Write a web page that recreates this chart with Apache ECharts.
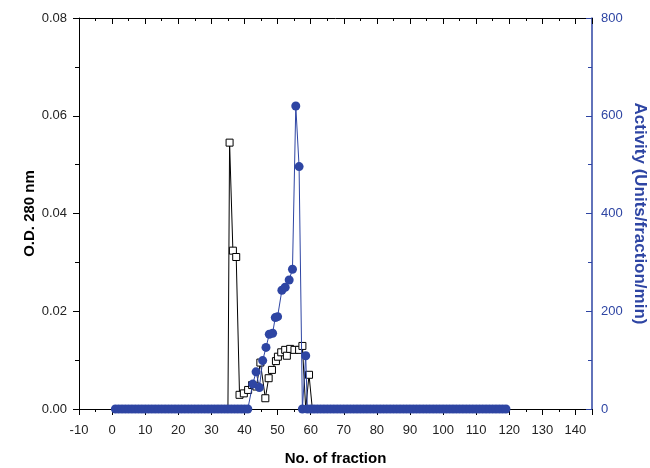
<!DOCTYPE html>
<html><head><meta charset="utf-8">
<script src="https://cdn.jsdelivr.net/npm/echarts/dist/echarts.min.js"></script>
<style>html,body{margin:0;padding:0;background:#fff}#c{width:650px;height:468px}</style>
</head><body><div id="c"></div>
<script>
// ---- Data ----
const xTickLabels = [-10,0,10,20,30,40,50,60,70,80,90,100,110,120,130,140];
const odTickLabels = ['0.00','0.02','0.04','0.06','0.08'];
const actTickLabels = [0,200,400,600,800];

// O.D. 280 nm (hollow squares); endpoints at 0 have no marker
const odFraction = [35, 35.5, 36.5, 37.5, 38.5, 39.8, 41.1, 42.3, 43.6, 44.8, 46.3, 47.3, 48.3, 49.5, 50.1, 51.1, 52.3, 52.8, 53.8, 55.1, 56.5, 57.5, 58.5, 59.5, 60.5];
const odValue    = [0, 0.0545, 0.0324, 0.0311, 0.0029, 0.0032, 0.0039, 0.0049, 0.0046, 0.0095, 0.0022, 0.0063, 0.0080, 0.0098, 0.0107, 0.0116, 0.0121, 0.0109, 0.0123, 0.0121, 0.0121, 0.0129, 0, 0.0070, 0];
const odMarker   = [false, true, true, true, true, true, true, true, true, true, true, true, true, true, true, true, true, true, true, true, true, true, false, true, false];

// Activity (filled circles)
const actFractionLow = [1,2,3,4,5,6,7,8,9,10,11,12,13,14,15,16,17,18,19,20,21,22,23,24,25,26,27,28,29,30,31,32,33,34,35,36,37,38,39,40,41];
const actValueLow    = [0,0,0,0,0,0,0,0,0,0,0,0,0,0,0,0,0,0,0,0,0,0,0,0,0,0,0,0,0,0,0,0,0,0,0,0,0,0,0,0,0];
const actFractionPeak = [42.5, 43.5, 44.5, 45.5, 46.5, 47.5, 48.5, 49.3, 50.0, 51.3, 52.3, 53.5, 54.5, 55.5, 56.5, 57.5, 58.5];
const actValuePeak    = [51, 76, 44, 99, 126, 153, 155, 187, 189, 243, 249, 264, 286, 620, 496, 0, 109];
const actFractionHigh = [59,60,61,62,63,64,65,66,67,68,69,70,71,72,73,74,75,76,77,78,79,80,81,82,83,84,85,86,87,88,89,90,91,92,93,94,95,96,97,98,99,100,101,102,103,104,105,106,107,108,109,110,111,112,113,114,115,116,117,118,119];
const actValueHigh    = [0,0,0,0,0,0,0,0,0,0,0,0,0,0,0,0,0,0,0,0,0,0,0,0,0,0,0,0,0,0,0,0,0,0,0,0,0,0,0,0,0,0,0,0,0,0,0,0,0,0,0,0,0,0,0,0,0,0,0,0,0];

// ---- Build series data ----
const odData = odFraction.map((f, i) => odMarker[i] ? [f, odValue[i]] : {value: [f, odValue[i]], symbol: 'none'});
const actFraction = actFractionLow.concat(actFractionPeak, actFractionHigh);
const actValue = actValueLow.concat(actValuePeak, actValueHigh);
const actData = actFraction.map((f, i) => [f, actValue[i]]);

const BLUE = '#2e45a3';
const FONT = 'Liberation Sans, Arial, Helvetica, sans-serif';

const chart = echarts.init(document.getElementById('c'), null, {renderer: 'canvas'});
chart.setOption({
  backgroundColor: '#fff',
  animation: false,
  grid: {left: 79, right: 58, top: 18, bottom: 59, containLabel: false, outerBoundsMode: 'none'},
  xAxis: [{
    type: 'value', position: 'bottom', min: -10, max: 145, interval: 10,
    name: 'No. of fraction', nameLocation: 'middle', nameGap: 42, nameMoveOverlap: false,
    nameTextStyle: {fontFamily: FONT, fontSize: 15, fontWeight: 'bold', color: '#000'},
    axisLine: {show: true, onZero: false, lineStyle: {color: '#000', width: 1}},
    axisTick: {show: true, inside: false, length: 6, lineStyle: {color: '#000'}},
    minorTick: {show: true, splitNumber: 2, length: 3, lineStyle: {color: '#000'}},
    splitLine: {show: false},
    axisLabel: {
      margin: 15, fontFamily: FONT, fontSize: 13, color: '#222', hideOverlap: false,
      formatter: v => xTickLabels.indexOf(v) >= 0 ? String(v) : ''
    }
  }, {
    type: 'value', position: 'top', min: -10, max: 145, interval: 10,
    axisLine: {show: true, onZero: false, lineStyle: {color: '#000', width: 1}},
    axisTick: {show: true, inside: true, length: 6, lineStyle: {color: '#000'}},
    minorTick: {show: true, splitNumber: 2, length: 3, lineStyle: {color: '#000'}},
    splitLine: {show: false},
    axisLabel: {show: false}
  }],
  yAxis: [{
    type: 'value', position: 'left', min: 0, max: 0.08, interval: 0.02,
    name: 'O.D. 280 nm', nameLocation: 'middle', nameGap: 42, nameMoveOverlap: false,
    nameTextStyle: {fontFamily: FONT, fontSize: 15, fontWeight: 'bold', color: '#000'},
    axisLine: {show: true, onZero: false, lineStyle: {color: '#000', width: 1}},
    axisTick: {show: true, inside: false, length: 6, lineStyle: {color: '#000'}},
    minorTick: {show: true, splitNumber: 2, length: 4, lineStyle: {color: '#000'}},
    splitLine: {show: false},
    axisLabel: {
      margin: 12, fontFamily: FONT, fontSize: 13, color: '#222',
      formatter: v => odTickLabels[Math.round(v / 0.02)]
    }
  }, {
    type: 'value', position: 'right', min: 0, max: 800, interval: 200,
    name: 'Activity (Units/fraction/min)', nameLocation: 'middle', nameGap: 39, nameRotate: -90, nameMoveOverlap: false,
    nameTextStyle: {fontFamily: FONT, fontSize: 17, fontWeight: 'bold', color: BLUE},
    axisLine: {show: true, onZero: false, lineStyle: {color: BLUE, width: 1.5}},
    axisTick: {show: true, inside: true, length: 6, lineStyle: {color: BLUE}},
    minorTick: {show: true, splitNumber: 2, length: 4, lineStyle: {color: BLUE}},
    splitLine: {show: false},
    axisLabel: {
      margin: 9, fontFamily: FONT, fontSize: 13, color: BLUE,
      formatter: v => actTickLabels.indexOf(v) >= 0 ? String(v) : ''
    }
  }],
  series: [{
    name: 'O.D. 280 nm', type: 'line', xAxisIndex: 0, yAxisIndex: 0,
    data: odData, symbol: 'rect', symbolSize: 7, showAllSymbol: true,
    lineStyle: {color: '#000', width: 1},
    itemStyle: {color: '#fff', borderColor: '#000', borderWidth: 1},
    z: 2
  }, {
    name: 'Activity', type: 'line', xAxisIndex: 0, yAxisIndex: 1,
    data: actData, symbol: 'circle', symbolSize: 9, showAllSymbol: true,
    lineStyle: {color: BLUE, width: 1},
    itemStyle: {color: BLUE, borderWidth: 0},
    z: 3
  }]
});
</script>
</body></html>
